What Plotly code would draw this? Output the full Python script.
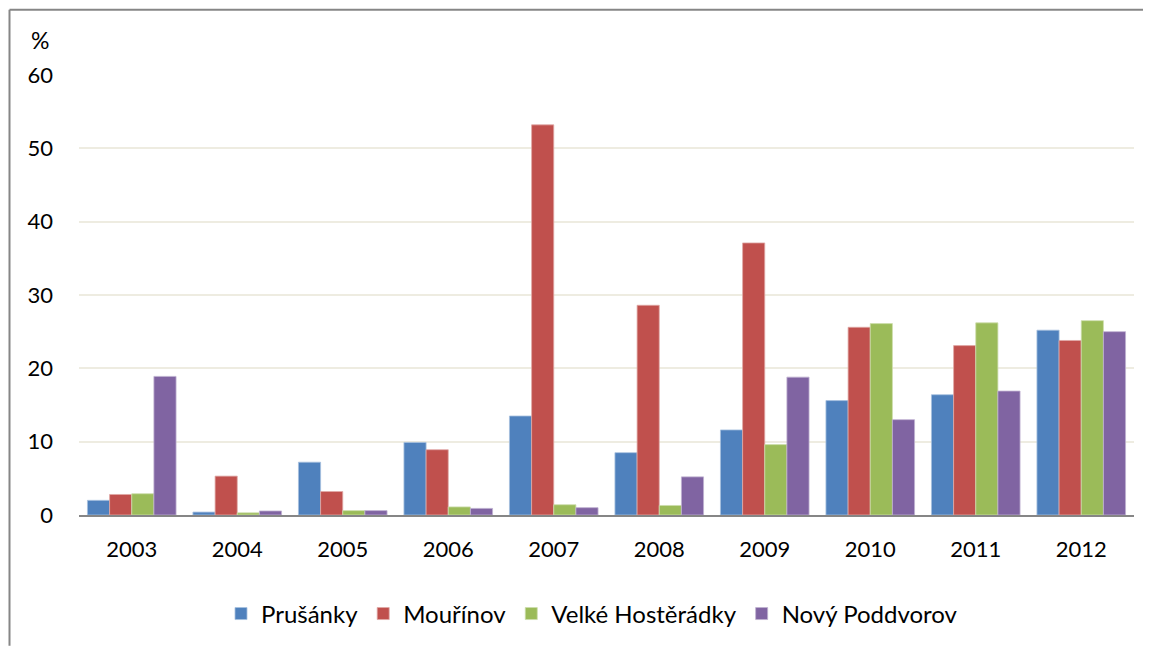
import plotly.graph_objects as go

years = ["2003", "2004", "2005", "2006", "2007", "2008", "2009", "2010", "2011", "2012"]
prusanky = [2.0, 0.4, 7.2, 9.9, 13.5, 8.5, 11.6, 15.6, 16.4, 25.2]
mourinov = [2.8, 5.3, 3.2, 8.9, 53.2, 28.6, 37.1, 25.6, 23.1, 23.8]
velke_hosteradky = [2.9, 0.3, 0.6, 1.1, 1.4, 1.3, 9.6, 26.1, 26.2, 26.5]
novy_poddvorov = [18.9, 0.55, 0.6, 0.9, 1.0, 5.2, 18.8, 13.0, 16.9, 25.0]
y_ticks = [0, 10, 20, 30, 40, 50, 60]

series = [
    ("Prušánky", prusanky, "#4F81BD", "#A7C0DE"),
    ("Mouřínov", mourinov, "#C0504D", "#DFA8A6"),
    ("Velké Hostěrádky", velke_hosteradky, "#9BBB59", "#CDDDAC"),
    ("Nový Poddvorov", novy_poddvorov, "#8064A2", "#BFB1D0"),
]

fig = go.Figure()
for name, vals, col, edge in series:
    fig.add_trace(go.Bar(
        x=years, y=vals, name=name,
        marker=dict(color=col, line=dict(color=edge, width=0.8)),
    ))

# page body has an 8px margin; design in screen pixels and shift
OFF = 8
W, H = 1151 - OFF, 649 - OFF
L, R, T, B = 79 - OFF, 17, 75 - OFF, 131.5
pw, ph = W - L - R, H - T - B

def px_x(px):
    return (px - OFF - L) / pw

def px_y(py):
    return (H - B - (py - OFF)) / ph

font = "Lato, 'Open Sans', Arial, sans-serif"
frame = dict(color="#868686", width=2)

fig.update_layout(
    width=W, height=H,
    margin=dict(l=L, r=R, t=T, b=B, pad=0),
    paper_bgcolor="white", plot_bgcolor="white",
    barmode="group", bargap=0.16, bargroupgap=0,
    font=dict(family=font, size=22, color="black"),
    showlegend=True,
    legend=dict(
        orientation="h", x=px_x(592), xanchor="center",
        y=px_y(617), yanchor="middle",
        font=dict(size=24), itemwidth=30, traceorder="normal",
        itemclick=False,
    ),
    xaxis=dict(
        showgrid=False, showline=True, linecolor="#868686", linewidth=2,
        ticks="", tickfont=dict(size=22), ticklabelstandoff=14,
        fixedrange=True,
    ),
    yaxis=dict(
        range=[0, 60], tickvals=y_ticks, showgrid=True,
        gridcolor="#EEECE1", gridwidth=1.5, zeroline=False, showline=False,
        ticks="", tickfont=dict(size=22), ticklabelstandoff=25,
        fixedrange=True,
    ),
    annotations=[dict(
        text="%", xref="paper", yref="paper", x=px_x(40), y=px_y(40),
        showarrow=False, font=dict(size=23), xanchor="center", yanchor="middle",
    )],
    shapes=[
        dict(type="line", xref="paper", yref="paper",
             x0=px_x(9.5), x1=px_x(9.5), y0=px_y(649), y1=px_y(9.5),
             line=frame, layer="below"),
        dict(type="line", xref="paper", yref="paper",
             x0=px_x(9.5), x1=px_x(1151), y0=px_y(9.5), y1=px_y(9.5),
             line=frame, layer="below"),
    ],
)

fig.write_html("out.html")
